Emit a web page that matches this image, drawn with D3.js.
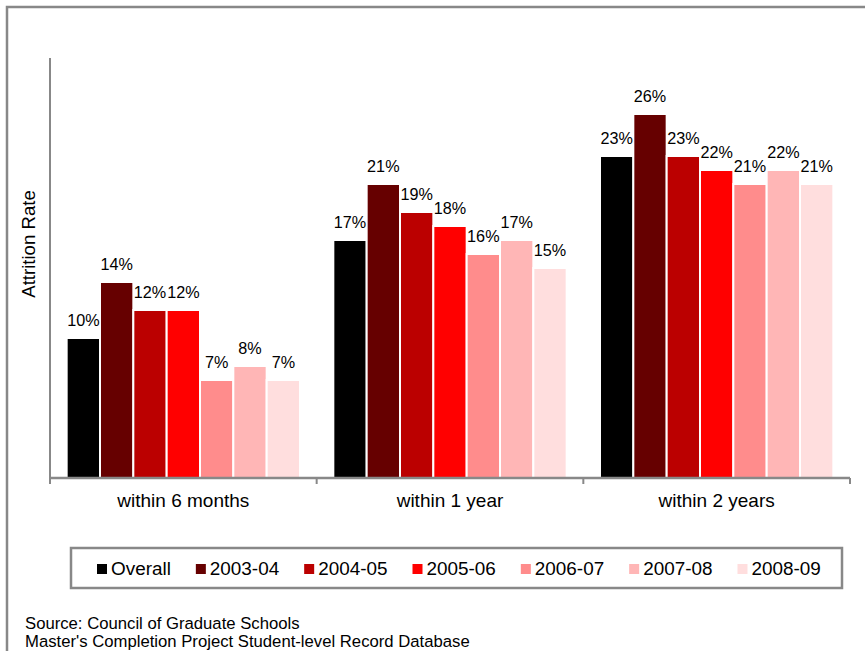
<!DOCTYPE html>
<html>
<head>
<meta charset="utf-8">
<script src="https://cdn.jsdelivr.net/npm/d3@7"></script>
<style>
  html, body { margin: 0; padding: 0; background: #fff; }
  svg { display: block; font-family: "Liberation Sans", Arial, sans-serif; }
</style>
</head>
<body>
<svg id="chart" width="865" height="651"></svg>
<script>
// Attrition periods (x categories)
const categories = ["within 6 months", "within 1 year", "within 2 years"];
// Cohorts (series)
const seriesNames = ["Overall", "2003-04", "2004-05", "2005-06", "2006-07", "2007-08", "2008-09"];
const seriesColors = ["#000000", "#660000", "#bb0000", "#ff0000", "#ff8c8c", "#ffb6b6", "#ffdede"];
// Attrition rate per cohort, one array per period
const within6Months = [0.10, 0.14, 0.12, 0.12, 0.07, 0.08, 0.07];
const within1Year   = [0.17, 0.21, 0.19, 0.18, 0.16, 0.17, 0.15];
const within2Years  = [0.23, 0.26, 0.23, 0.22, 0.21, 0.22, 0.21];
const valuesByCategory = [within6Months, within1Year, within2Years];
const sourceLines = ["Source: Council of Graduate Schools",
                     "Master's Completion Project Student-level Record Database"];

const svg = d3.select("#chart");
const axisColor = "#888888";

// Outer frame (runs past the right and bottom edges)
svg.append("rect")
  .attr("x", 7).attr("y", 7)
  .attr("width", 900).attr("height", 700)
  .attr("fill", "none").attr("stroke", axisColor).attr("stroke-width", 2.5);

const plot = { left: 50, right: 850, top: 58, bottom: 478 };

const x0 = d3.scaleBand().domain(categories)
  .range([plot.left, plot.right]).paddingInner(0).paddingOuter(0);
const x1 = d3.scaleBand().domain(seriesNames)
  .range([0, x0.bandwidth()]).paddingInner(0).paddingOuter(0.5);
const y = d3.scaleLinear().domain([0, 0.30]).range([plot.bottom, plot.top]);
const color = d3.scaleOrdinal().domain(seriesNames).range(seriesColors);
const pct = d3.format(".0%");

const rows = categories.map((c, i) => ({
  category: c,
  items: seriesNames.map((s, j) => ({ series: s, value: valuesByCategory[i][j] }))
}));

const groups = svg.append("g").selectAll("g").data(rows).join("g")
  .attr("transform", d => `translate(${x0(d.category)},0)`);

groups.selectAll("rect").data(d => d.items).join("rect")
  .attr("x", d => x1(d.series))
  .attr("y", d => y(d.value))
  .attr("width", x1.bandwidth())
  .attr("height", d => y(0) - y(d.value))
  .attr("fill", d => color(d.series))
  .attr("stroke", "#ffffff").attr("stroke-width", 2);

groups.selectAll("text.val").data(d => d.items).join("text")
  .attr("class", "val")
  .attr("x", d => x1(d.series) + x1.bandwidth() / 2)
  .attr("y", d => y(d.value) - 12)
  .attr("text-anchor", "middle")
  .attr("font-size", 16.2).attr("fill", "#000")
  .text(d => pct(d.value));

// Y axis: plain line, no ticks
svg.append("line")
  .attr("x1", plot.left).attr("x2", plot.left)
  .attr("y1", plot.top).attr("y2", plot.bottom)
  .attr("stroke", axisColor).attr("stroke-width", 2);

// X axis with ticks on category boundaries
const xAxis = svg.append("g").attr("transform", `translate(0,${plot.bottom})`);
xAxis.append("line")
  .attr("x1", plot.left).attr("x2", plot.right)
  .attr("stroke", axisColor).attr("stroke-width", 2.5);
const boundaries = categories.map(c => x0(c)).concat([x0(categories[categories.length - 1]) + x0.bandwidth()]);
xAxis.selectAll("line.tick").data(boundaries).join("line")
  .attr("class", "tick")
  .attr("x1", d => d).attr("x2", d => d)
  .attr("y1", 0).attr("y2", 6)
  .attr("stroke", axisColor).attr("stroke-width", 2);
xAxis.selectAll("text").data(categories).join("text")
  .attr("x", d => x0(d) + x0.bandwidth() / 2)
  .attr("y", 29)
  .attr("text-anchor", "middle")
  .attr("font-size", 19).attr("fill", "#000")
  .text(d => d);

// Y axis title
svg.append("text")
  .attr("transform", "translate(35,244) rotate(-90)")
  .attr("text-anchor", "middle")
  .attr("font-size", 18.6).attr("fill", "#000")
  .text("Attrition Rate");

// Legend
const legendBox = { x: 71, y: 548, w: 771, h: 40 };
svg.append("rect")
  .attr("x", legendBox.x).attr("y", legendBox.y)
  .attr("width", legendBox.w).attr("height", legendBox.h)
  .attr("fill", "#fff").attr("stroke", axisColor).attr("stroke-width", 2.5);
const legend = svg.append("g");
let lx = legendBox.x + 26;
seriesNames.forEach(name => {
  const item = legend.append("g");
  item.append("rect")
    .attr("x", lx).attr("y", legendBox.y + 16)
    .attr("width", 10).attr("height", 10)
    .attr("fill", color(name));
  const t = item.append("text")
    .attr("x", lx + 14).attr("y", legendBox.y + 27)
    .attr("font-size", 18.9).attr("fill", "#000")
    .text(name);
  lx += 14 + t.node().getComputedTextLength() + 25;
});

// Source note
svg.append("g").selectAll("text").data(sourceLines).join("text")
  .attr("x", 25)
  .attr("y", (d, i) => 629 + i * 18)
  .attr("font-size", 16.7).attr("fill", "#000")
  .text(d => d);
</script>
</body>
</html>
